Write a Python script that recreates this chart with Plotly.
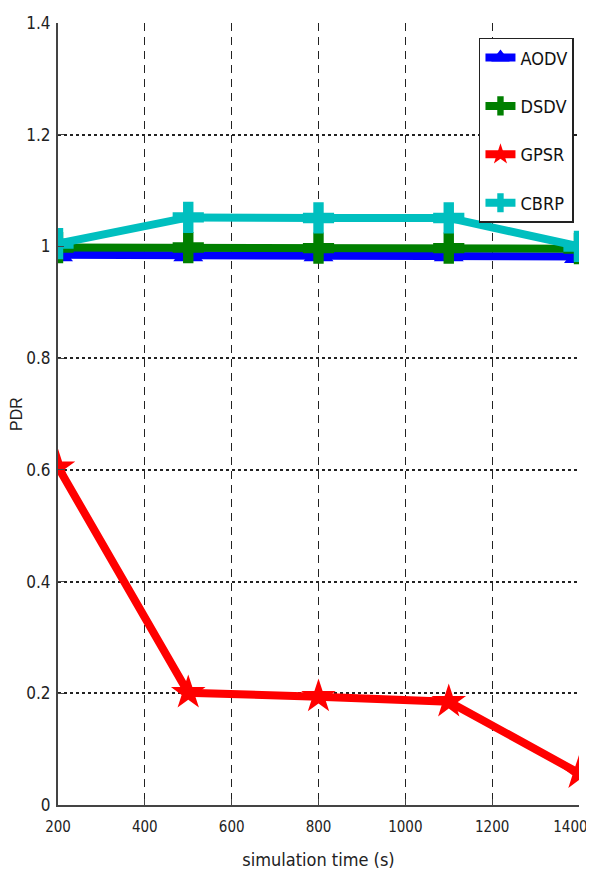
import plotly.graph_objects as go

x_vals = [200, 500, 800, 1100, 1400]
aodv = [0.985, 0.985, 0.985, 0.985, 0.982]
dsdv = [0.998, 0.998, 0.997, 0.997, 0.996]
gpsr = [0.605, 0.201, 0.194, 0.185, 0.057]
cbrp = [1.005, 1.052, 1.051, 1.051, 1.0]

x_ticks = [200, 400, 600, 800, 1000, 1200, 1400]
x_tick_text = ["200", "400", "600", "800", "1000", "1200", "1400\u2007\u2007"]
y_ticks = [0, 0.2, 0.4, 0.6, 0.8, 1.0, 1.2, 1.4]
y_tick_text = ["0", "0.2", "0.4", "0.6", "0.8", "1", "1.2", "1.4"]

series = [
    ("AODV", aodv, "#0000ff", "triangle-up"),
    ("DSDV", dsdv, "#007f00", "cross"),
    ("GPSR", gpsr, "#ff0000", "star"),
    ("CBRP", cbrp, "#00bfbf", "cross"),
]

FONT = "DejaVu Sans Condensed, Liberation Sans Narrow, Arial Narrow, sans-serif"

fig = go.Figure()
for name, vals, color, sym in series:
    fig.add_trace(go.Scatter(
        x=x_vals, y=vals, name=name, mode="lines+markers",
        line=dict(color=color, width=8),
        marker=dict(symbol=sym, size=26, color=color, line=dict(width=0)),
        legendgroup=name,
    ))

fig.update_layout(
    width=586, height=862,
    margin=dict(l=50, r=15, t=15, b=65),
    paper_bgcolor="white", plot_bgcolor="white",
    font=dict(family=FONT, size=17, color="#222"),
    showlegend=True,
    legend=dict(
        x=0.808, y=0.981, xanchor="left", yanchor="top",
        bgcolor="white", bordercolor="#222", borderwidth=1.5,
        font=dict(family=FONT, size=18, color="#111"),
        tracegroupgap=22, itemwidth=30,
        traceorder="grouped",
    ),
    xaxis=dict(
        range=[200, 1400], tickvals=x_ticks, ticktext=x_tick_text,
        tickfont=dict(family=FONT, size=15),
        showgrid=True, gridcolor="#222", griddash="8px,6px", gridwidth=1,
        showline=True, linecolor="#444", linewidth=2,
        ticks="inside", ticklen=6, tickcolor="#444",
        ticklabelstandoff=7, ticklabeloverflow="allow",
        zeroline=False, automargin=False,
        title=dict(text="simulation time (s)", font=dict(family=FONT, size=18), standoff=24),
    ),
    yaxis=dict(
        range=[0, 1.4], tickvals=y_ticks, ticktext=y_tick_text,
        showgrid=True, gridcolor="#222", griddash="dot", gridwidth=1.5,
        showline=True, linecolor="#444", linewidth=2,
        ticks="inside", ticklen=6, tickcolor="#444",
        ticklabelstandoff=2, ticklabeloverflow="allow",
        zeroline=False, automargin=False,
        title=dict(text="PDR", font=dict(family="Liberation Sans, Arial, sans-serif", size=16), standoff=8),
    ),
)

fig.write_html("out.html")
